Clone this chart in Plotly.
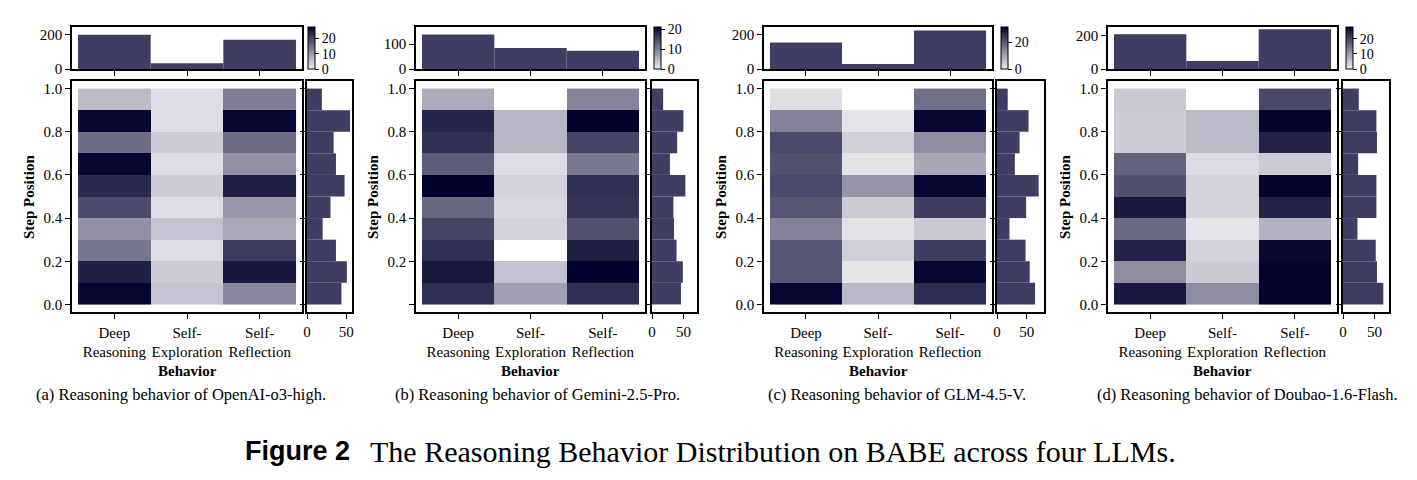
import plotly.graph_objects as go

W, H = 1417, 480

# ---------------- data ----------------
categories = ["Deep Reasoning", "Self-Exploration", "Self-Reflection"]
category_ticktext = ["Deep<br>Reasoning", "Self-<br>Exploration", "Self-<br>Reflection"]
step_edges = [0.0, 0.1, 0.2, 0.3, 0.4, 0.5, 0.6, 0.7, 0.8, 0.9, 1.0]
step_centers = [0.05, 0.15, 0.25, 0.35, 0.45, 0.55, 0.65, 0.75, 0.85, 0.95]
step_ticks = [0.0, 0.2, 0.4, 0.6, 0.8, 1.0]

models = ["OpenAI-o3-high", "Gemini-2.5-Pro", "GLM-4.5-V", "Doubao-1.6-Flash"]
letters = ["a", "b", "c", "d"]

# 2D counts per step bin (bins listed from 0.0-0.1 up to 0.9-1.0)
o3_deep = [27, 24, 14, 11, 19, 23, 27, 15, 27, 6]
o3_explore = [5, 4, 2, 5, 2, 4, 2, 4, 2, 2]
o3_reflect = [12, 25, 21, 8, 10, 24, 11, 15, 27, 13]

gem_deep = [17, 19, 17, 15, 12, 21, 13, 17, 18, 6]
gem_explore = [7, 4, 0, 2.5, 2, 2.5, 1.5, 5, 5, 0]
gem_reflect = [17, 21, 18.5, 14, 16.5, 17, 10.5, 15, 21, 9.5]

glm_deep = [31, 20.5, 20.5, 14.5, 20.5, 22, 21, 22, 14.5, 2.2]
glm_explore = [7.2, 1.3, 4.2, 1.6, 4.8, 12, 1.6, 4.2, 1.3, 0]
glm_reflect = [26, 31, 23.5, 5, 23.5, 31, 9.5, 13, 31, 17]

dou_deep = [25, 11.5, 24, 15.5, 25, 18.5, 16.5, 4.2, 4.2, 4.5]
dou_explore = [11.5, 4.3, 3.2, 1.2, 3.2, 3.2, 2.2, 6, 6, 0]
dou_reflect = [27.5, 27.5, 27, 7, 24, 27.5, 4.2, 24, 27.5, 19.5]

# marginal counts per behavior (top histograms)
o3_behavior_totals = [200, 33, 171]
gem_behavior_totals = [139, 85, 73]
glm_behavior_totals = [155, 29, 225]
dou_behavior_totals = [208, 48, 238]

# marginal counts per step bin (right histograms), bins 0.0-0.1 up to 0.9-1.0
o3_step_totals = [44, 51, 37, 20, 30, 48, 37, 34, 55, 19]
gem_step_totals = [46, 49, 39, 35, 34, 53, 28.5, 40, 50, 17.7]
glm_step_totals = [64, 55, 48, 21, 49, 70, 30, 38, 53, 18]
dou_step_totals = [64, 54, 52, 23, 53, 53, 24, 54, 53, 25]

# colour-scale maxima and ticks
cmax_values = [27.5, 21, 31.6, 27.7]
cbar_ticks = [[0, 10, 20], [0, 10, 20], [0, 20], [0, 10, 20]]
top_ticks = [[0, 200], [0, 100], [0, 200], [0, 200]]
top_ranges = [246, 169, 245, 252]
right_ticks = [[0, 50], [0, 50], [0, 50], [0, 50]]
right_ranges = [57.5, 71.5, 79, 73]
show_zero_label = [True, False, True, True]

panel_deep = [o3_deep, gem_deep, glm_deep, dou_deep]
panel_explore = [o3_explore, gem_explore, glm_explore, dou_explore]
panel_reflect = [o3_reflect, gem_reflect, glm_reflect, dou_reflect]
panel_top = [o3_behavior_totals, gem_behavior_totals, glm_behavior_totals, dou_behavior_totals]
panel_right = [o3_step_totals, gem_step_totals, glm_step_totals, dou_step_totals]

# ---------------- style / layout ----------------
SERIF = "Liberation Serif, Times New Roman, serif"
BAR_COLOR = "#3f3e62"
COLORSCALE = [[0.0, "#efeef3"], [1.0, "#03022e"]]

geo = [
    dict(hx=(72, 302), rx=(307, 352), cbx=308, cap=181),
    dict(hx=(416, 645), rx=(652, 697), cbx=654, cap=537.5),
    dict(hx=(764, 992), rx=(997, 1044), cbx=1001, cap=897),
    dict(hx=(1108, 1337), rx=(1343, 1389), cbx=1346, cap=1247.5),
]
HEAT_Y = (81, 312)
TOP_Y = (27, 69)
CB_Y = (27, 69)


def px_x(v):
    return v / W


def px_y(v):
    return 1 - v / H


fig = go.Figure()
layout = dict()
annotations = []

axis_common = dict(
    showgrid=False, zeroline=False, showline=True, mirror=True,
    linecolor="black", linewidth=1.6, ticks="outside", ticklen=5,
    tickwidth=1.2, tickcolor="black",
    tickfont=dict(family=SERIF, size=15, color="black"),
)

for i in range(4):
    g = geo[i]
    n = 3 * i
    hx, hy, tx, ty, rx, ry = (f"x{n+1}", f"y{n+1}", f"x{n+2}", f"y{n+2}", f"x{n+3}", f"y{n+3}")
    kx = lambda s: "xaxis" + s[1:]
    ky = lambda s: "yaxis" + s[1:]

    z = []
    for r in range(len(step_centers)):
        row = []
        for v in (panel_deep[i][r], panel_explore[i][r], panel_reflect[i][r]):
            row.append(v if v > 0 else None)
        z.append(row)

    fig.add_trace(go.Heatmap(
        z=z, x=[-0.5, 0.5, 1.5, 2.5], y=step_edges,
        xaxis=hx, yaxis=hy,
        colorscale=COLORSCALE, zmin=0, zmax=cmax_values[i],
        hoverongaps=False,
        colorbar=dict(
            x=px_x(g["cbx"]), xanchor="left", xpad=0,
            y=px_y((CB_Y[0] + CB_Y[1]) / 2), yanchor="middle", ypad=0,
            len=CB_Y[1] - CB_Y[0], lenmode="pixels",
            thickness=7, thicknessmode="pixels",
            outlinewidth=1, outlinecolor="black",
            ticks="outside", ticklen=4, tickcolor="black", tickwidth=1,
            tickvals=cbar_ticks[i],
            tickfont=dict(family=SERIF, size=14, color="black"),
        ),
    ))

    fig.add_trace(go.Bar(
        x=[0, 1, 2], y=panel_top[i], width=1,
        marker=dict(color=BAR_COLOR, line=dict(width=0)),
        xaxis=tx, yaxis=ty, showlegend=False,
    ))

    fig.add_trace(go.Bar(
        y=step_centers, x=panel_right[i], width=0.1, orientation="h",
        marker=dict(color=BAR_COLOR, line=dict(width=0)),
        xaxis=rx, yaxis=ry, showlegend=False,
    ))

    xr = [-0.583, 2.583]
    yr = [-0.035, 1.035]
    hdom_x = [px_x(g["hx"][0]), px_x(g["hx"][1])]
    hdom_y = [px_y(HEAT_Y[1]), px_y(HEAT_Y[0])]
    tdom_y = [px_y(TOP_Y[1]), px_y(TOP_Y[0])]
    rdom_x = [px_x(g["rx"][0]), px_x(g["rx"][1])]

    ytext = [f"{v:.1f}" for v in step_ticks]
    if not show_zero_label[i]:
        ytext[0] = ""

    layout[kx(hx)] = dict(axis_common, domain=hdom_x, anchor=hy, range=xr,
                          tickvals=[0, 1, 2], ticktext=category_ticktext,
                          ticklabelstandoff=1)
    layout[ky(hy)] = dict(axis_common, domain=hdom_y, anchor=hx, range=yr,
                          tickvals=step_ticks, ticktext=ytext)
    layout[kx(tx)] = dict(axis_common, domain=hdom_x, anchor=ty, range=xr,
                          tickvals=[0, 1, 2], showticklabels=False)
    layout[ky(ty)] = dict(axis_common, domain=tdom_y, anchor=tx,
                          range=[0, top_ranges[i]], tickvals=top_ticks[i])
    layout[kx(rx)] = dict(axis_common, domain=rdom_x, anchor=ry,
                          range=[0, right_ranges[i]], tickvals=right_ticks[i])
    layout[ky(ry)] = dict(axis_common, domain=hdom_y, anchor=rx, range=yr,
                          tickvals=step_ticks, showticklabels=False)

    cx = (g["hx"][0] + g["hx"][1]) / 2
    annotations.append(dict(
        text="<b>Behavior</b>", x=px_x(cx), y=px_y(371), xref="paper", yref="paper",
        xanchor="center", yanchor="middle", showarrow=False,
        font=dict(family=SERIF, size=15, color="black")))
    annotations.append(dict(
        text="<b>Step Position</b>", x=px_x(g["hx"][0] - 43), y=px_y(197),
        xref="paper", yref="paper", textangle=-90,
        xanchor="center", yanchor="middle", showarrow=False,
        font=dict(family=SERIF, size=15, color="black")))
    annotations.append(dict(
        text=f"({letters[i]}) Reasoning behavior of {models[i]}.",
        x=px_x(g["cap"]), y=px_y(394), xref="paper", yref="paper",
        xanchor="center", yanchor="middle", showarrow=False,
        font=dict(family=SERIF, size=16.5, color="black")))

annotations.append(dict(
    text="<b>Figure 2</b>", x=px_x(352), y=px_y(451), xref="paper", yref="paper",
    xanchor="right", yanchor="middle", showarrow=False,
    font=dict(family="Liberation Sans, Arial, sans-serif", size=27, color="black")))
annotations.append(dict(
    text="The Reasoning Behavior Distribution on BABE across four LLMs.",
    x=px_x(368), y=px_y(451), xref="paper", yref="paper",
    xanchor="left", yanchor="middle", showarrow=False,
    font=dict(family=SERIF, size=30, color="black")))

fig.update_layout(
    width=W, height=H,
    margin=dict(l=0, r=0, t=0, b=0),
    paper_bgcolor="white", plot_bgcolor="white",
    showlegend=False, template="none",
    annotations=annotations,
    **layout,
)

fig.write_html("out.html")
